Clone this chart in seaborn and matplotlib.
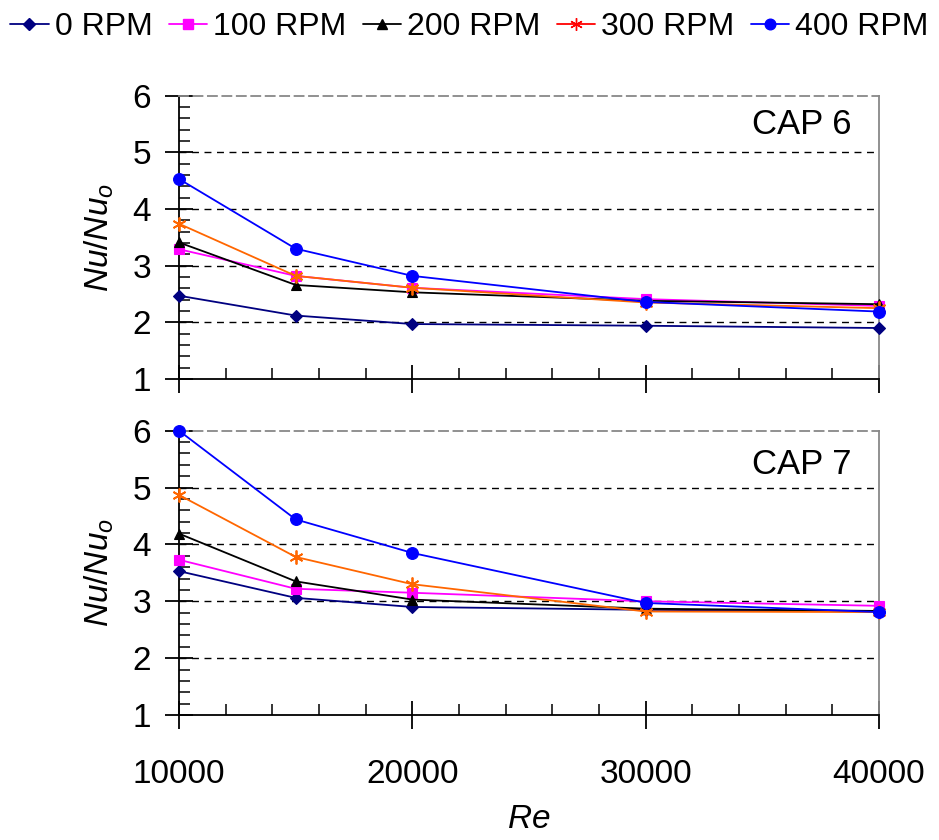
import numpy as np
import pandas as pd
import matplotlib
matplotlib.use("Agg")
import matplotlib.pyplot as plt
from matplotlib.lines import Line2D
from matplotlib.ticker import MultipleLocator
import seaborn as sns

# ---------------- data ----------------
re_values = [10000, 15000, 20000, 30000, 40000]
series_names = ["0 RPM", "100 RPM", "200 RPM", "300 RPM", "400 RPM"]

cap6_0 = [2.47, 2.12, 1.97, 1.94, 1.90]
cap6_100 = [3.29, 2.82, 2.61, 2.41, 2.29]
cap6_200 = [3.41, 2.66, 2.53, 2.38, 2.32]
cap6_300 = [3.74, 2.82, 2.61, 2.35, 2.25]
cap6_400 = [4.53, 3.30, 2.82, 2.36, 2.19]

cap7_0 = [3.53, 3.06, 2.90, 2.85, 2.82]
cap7_100 = [3.73, 3.22, 3.15, 3.00, 2.92]
cap7_200 = [4.19, 3.35, 3.03, 2.87, 2.83]
cap7_300 = [4.87, 3.78, 3.30, 2.82, 2.81]
cap7_400 = [6.00, 4.44, 3.85, 2.97, 2.81]

panel_labels = ["CAP 6", "CAP 7"]
x_ticks = [10000, 20000, 30000, 40000]
y_ticks = [1, 2, 3, 4, 5, 6]

# ---------------- style ----------------
sns.set_theme(style="white")
plt.rcParams["font.family"] = ["Liberation Sans", "DejaVu Sans"]
plt.rcParams["mathtext.fontset"] = "custom"
plt.rcParams["mathtext.rm"] = "Liberation Sans"
plt.rcParams["mathtext.it"] = "Liberation Sans:italic"
plt.rcParams["text.color"] = "black"
plt.rcParams["axes.labelcolor"] = "black"
plt.rcParams["xtick.color"] = "black"
plt.rcParams["ytick.color"] = "black"

line_colors = ["#000080", "#FF00FF", "#000000", "#FF6600", "#0000FF"]
legend_colors = ["#000080", "#FF00FF", "#000000", "#FF0000", "#0000FF"]
markers = ["D", "s", "^", (6, 2, 0), "o"]
msizes = [6.5, 7.5, 7.5, 10, 8.5]

def build_df(vals):
    rows = []
    for name, v in zip(series_names, vals):
        for x, y in zip(re_values, v):
            rows.append({"Re": x, "val": y, "series": name})
    return pd.DataFrame(rows)

df6 = build_df([cap6_0, cap6_100, cap6_200, cap6_300, cap6_400])
df7 = build_df([cap7_0, cap7_100, cap7_200, cap7_300, cap7_400])

W, H = 939, 840
fig = plt.figure(figsize=(W / 100, H / 100), dpi=100)
ax_top = fig.add_axes([179 / W, 1 - 379 / H, 700 / W, (379 - 95.7) / H])
ax_bot = fig.add_axes([179 / W, 1 - 715 / H, 700 / W, (715 - 430.7) / H])

FS = 24

for ax, df, lab, ty in [(ax_top, df6, panel_labels[0], 0.9), (ax_bot, df7, panel_labels[1], 0.88)]:
    for i, name in enumerate(series_names):
        sub = df[df["series"] == name]
        sns.lineplot(data=sub, x="Re", y="val", ax=ax, color=line_colors[i],
                     marker=markers[i], markersize=msizes[i],
                     markeredgecolor=line_colors[i], markerfacecolor=line_colors[i],
                     markeredgewidth=1.3 if i == 3 else 0.8,
                     linewidth=1.3, clip_on=False, zorder=5, legend=False)
    ax.set_xlim(10000, 40000)
    ax.set_ylim(1, 6)
    ax.set_xticks(x_ticks)
    ax.set_yticks(y_ticks)
    ax.xaxis.set_minor_locator(MultipleLocator(2000))
    ax.yaxis.set_minor_locator(MultipleLocator(0.2))
    for yv in [2, 3, 4, 5]:
        ax.axhline(yv, color="black", linestyle=(0, (5, 4)), linewidth=1.0, zorder=1)
    ax.tick_params(axis="both", which="both", bottom=True, left=True, top=False, right=False)
    ax.tick_params(axis="both", which="major", direction="inout", length=20,
                   width=1.3, color="black", labelsize=FS, labelcolor="black")
    ax.tick_params(axis="both", which="minor", direction="in", length=8,
                   width=1.1, color="black")
    ax.tick_params(axis="x", which="major", pad=22)
    ax.tick_params(axis="y", which="major", pad=10)
    for s in ["left", "bottom"]:
        ax.spines[s].set_color("black")
        ax.spines[s].set_linewidth(1.3)
    ax.spines["top"].set_color("#888888")
    ax.spines["top"].set_linestyle((0, (5, 3)))
    ax.spines["top"].set_linewidth(1.3)
    ax.spines["right"].set_color("#888888")
    ax.spines["right"].set_linewidth(1.3)
    ax.set_xlabel("")
    ax.set_ylabel(r"$Nu/Nu_o$", fontsize=FS, labelpad=12)
    ax.text(0.96, ty, lab, transform=ax.transAxes, ha="right", va="center",
            fontsize=FS + 1, color="black")
    ax.grid(False)

ax_top.tick_params(axis="x", labelbottom=False)
ax_bot.set_xlabel(r"$Re$", fontsize=FS, labelpad=10)

handles = [Line2D([0], [0], color=legend_colors[i], marker=markers[i],
                  markersize=msizes[i] * 0.9, markerfacecolor=legend_colors[i],
                  markeredgecolor=legend_colors[i], linewidth=1.3)
           for i in range(5)]
fig.legend(handles, series_names, loc="upper center", bbox_to_anchor=(0.5, 1.02),
           ncol=5, frameon=False, fontsize=23, handlelength=1.2,
           handletextpad=0.2, columnspacing=0.5)

fig.savefig("out.png", dpi=100)
